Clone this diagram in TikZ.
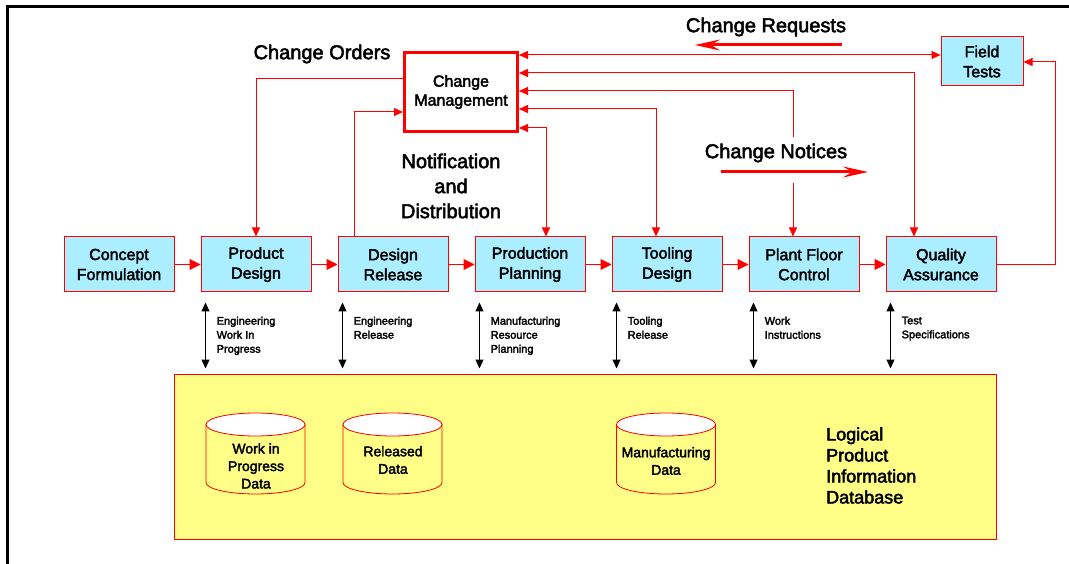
\documentclass[tikz,border=0pt]{standalone}
\usepackage{fontspec}
\setmainfont{Liberation Sans}[FakeBold=2.5]
\usetikzlibrary{arrows.meta,calc}
\definecolor{boxcyan}{RGB}{170,238,255}
\definecolor{dbyellow}{RGB}{255,255,136}
\tikzset{
  rtip/.tip={Triangle[length=9pt,width=8pt]},
  ftip/.tip={Triangle[length=11pt,width=11pt]},
  btip/.tip={Triangle[length=9pt,width=8pt]},
}
\newcommand\dbcyl[1]{%
  \filldraw[draw=red, line width=0.8pt, fill=dbyellow] (#1-49.5,424.5) -- (#1-49.5,482.5) arc[start angle=180,end angle=0,x radius=49.5,y radius=11.5] -- (#1+49.5,424.5) -- cycle;
  \filldraw[draw=red, line width=0.8pt, fill=white] (#1,424.5) ellipse[x radius=49.5,y radius=11.5];}
\begin{document}
\begin{tikzpicture}[x=1pt,y=-1pt,
  proc/.style={draw=red, line width=1pt, fill=boxcyan, minimum width=110pt, minimum height=55pt, inner sep=0pt, align=center, font=\fontsize{16}{20}\selectfont},
  flow/.style={red, line width=1pt, -ftip},
  link/.style={red, line width=1pt},
  dbl/.style={black, line width=1pt, btip-btip},
  small/.style={anchor=north west, inner sep=0pt, align=left, font=\fontsize{11}{14}\selectfont},
  big/.style={font=\fontsize{20}{25}\selectfont, align=center, inner sep=1pt},
  bigarrow/.style={red, line width=3pt, -{Stealth[length=25pt,width=11pt,inset=9pt]}},
  cyltext/.style={align=center, inner sep=0pt, font=\fontsize{14}{17.5}\selectfont},
]
\useasboundingbox (0,0) rectangle (1069,564);
% frame
\draw[line width=2.2pt] (1069,6.5) -- (7.5,6.5) -- (7.5,564);

% database
\node[draw=red, line width=1pt, fill=dbyellow, minimum width=822pt, minimum height=165pt, inner sep=0pt] (db) at (585,456.5) {};
\dbcyl{255.5}
\dbcyl{392.5}
\dbcyl{666}
\node[cyltext] (c1) at (256,466) {Work in\\Progress\\Data};
\node[cyltext] (c2) at (393,460) {Released\\Data};
\node[cyltext] (c3) at (666,461) {Manufacturing\\Data};
\node[anchor=west, align=left, inner sep=0pt, font=\fontsize{18}{21}\selectfont] (lp) at (826,465.5) {Logical\\Product\\Information\\Database};

% process boxes
\node[proc] (cf)  at (119,264.5) {Concept\\Formulation};
\node[proc] (pd)  at (256,264.5) {Product\\Design};
\node[proc] (dr)  at (393,264.5) {Design\\Release};
\node[proc] (pp)  at (530,264.5) {Production\\Planning};
\node[proc] (td)  at (667,264.5) {Tooling\\Design};
\node[proc] (pfc) at (804,264.5) {Plant Floor\\Control};
\node[proc] (qa)  at (941,264.5) {Quality\\Assurance};
\node[proc, minimum width=82pt, minimum height=49pt] (ft) at (982,61.5) {Field\\Tests};
\node[draw=red, line width=3pt, fill=white, minimum width=113pt, minimum height=79pt, inner sep=0pt, align=center, font=\fontsize{16}{19}\selectfont] (cm) at (461,92) {Change\\Management};

% flow chain
\draw[flow] (cf) -- (pd);
\draw[flow] (pd) -- (dr);
\draw[flow] (dr) -- (pp);
\draw[flow] (pp) -- (td);
\draw[flow] (td) -- (pfc);
\draw[flow] (pfc) -- (qa);

% change management links
\draw[link, rtip-rtip] (cm.east |- 0,55) -- (ft.west |- 0,55);
\draw[link, rtip-rtip] (cm.east |- 0,73) -| (qa.north -| 914,0);
\draw[link, rtip-rtip] (cm.east |- 0,91) -| (pfc.north -| 793,0);
\draw[link, rtip-rtip] (cm.east |- 0,109) -| (td.north -| 656,0);
\draw[link, rtip-rtip] (cm.east |- 0,128) -| (pp.north -| 546,0);
\draw[link, -rtip] (cm.west |- 0,79) -| (pd.north);
\draw[link, -rtip] (dr.north -| 354,0) |- (cm.west |- 0,112);
\coordinate (fr) at (1055,264.5);
\draw[link, -rtip] (qa.east) -- (fr) |- (ft.east |- 0,62);

% gap in change notices line
\fill[white] (780,137) rectangle (806,183);

% labels
\node[big] (co) at (322,54) {Change Orders};
\node[big] (cr) at (766,27) {Change Requests};
\node[big] (cnt) at (776,153) {Change Notices};
\node[big] (nd) at (451,186) {Notification\\and\\Distribution};
\coordinate (crA) at (842,45);
\coordinate (crB) at (695,45);
\draw[bigarrow] (crA) -- (crB);
\coordinate (cnA) at (721,172);
\coordinate (cnB) at (868,172);
\draw[bigarrow] (cnA) -- (cnB);

% database links
\draw[dbl] ($(pd.south west)+(5,10)$) -- ($(pd.south west |- db.north)+(5,-5)$);
\draw[dbl] ($(dr.south west)+(5,10)$) -- ($(dr.south west |- db.north)+(5,-5)$);
\draw[dbl] ($(pp.south west)+(5,10)$) -- ($(pp.south west |- db.north)+(5,-5)$);
\draw[dbl] ($(td.south west)+(5,10)$) -- ($(td.south west |- db.north)+(5,-5)$);
\draw[dbl] ($(pfc.south west)+(5,10)$) -- ($(pfc.south west |- db.north)+(5,-5)$);
\draw[dbl] ($(qa.south west)+(5,10)$) -- ($(qa.south west |- db.north)+(5,-5)$);
\node[small] (l1) at ($(pd.south west)+(16,24)$) {Engineering\\Work In\\Progress};
\node[small] (l2) at ($(dr.south west)+(16,24)$) {Engineering\\Release};
\node[small] (l3) at ($(pp.south west)+(16,24)$) {Manufacturing\\Resource\\Planning};
\node[small] (l4) at ($(td.south west)+(16,24)$) {Tooling\\Release};
\node[small] (l5) at ($(pfc.south west)+(16,24)$) {Work\\Instructions};
\node[small] (l6) at ($(qa.south west)+(16,24)$) {Test\\Specifications};
\end{tikzpicture}
\end{document}
